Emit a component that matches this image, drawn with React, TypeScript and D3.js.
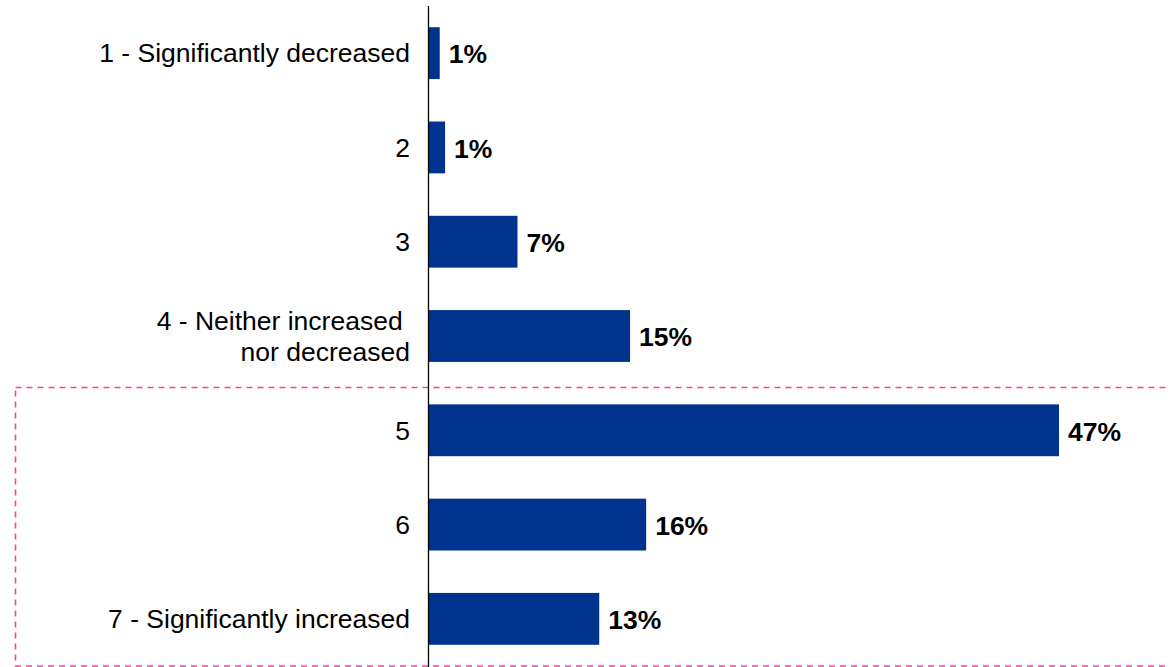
import React from "react";
import * as d3 from "d3";

const categories: string[][] = [
  ["1 - Significantly decreased"],
  ["2"],
  ["3"],
  ["4 - Neither increased\u00a0", "nor decreased"],
  ["5"],
  ["6"],
  ["7 - Significantly increased"],
];
const values: number[] = [0.8, 1.2, 6.6, 15.0, 47.0, 16.2, 12.7];

const W = 1170;
const H = 667;
const BAR = "#00338D";
const PINK = "#FF3FA4";
const FONT = "'Liberation Sans', Arial, Helvetica, sans-serif";

export default function App() {
  const ids = categories.map((_, i) => String(i));
  const y = d3.scaleBand<string>().domain(ids).range([6, 666]).paddingInner(0.45).paddingOuter(0.225);
  const x = d3.scaleLinear().domain([0, 47]).range([429, 1059]);
  const bw = y.bandwidth();

  return (
    <svg width={W} height={H} style={{ position: "absolute", left: 0, top: 0, background: "#fff" }}>
      <rect x={15.5} y={387.5} width={1200} height={278.5} fill="none" stroke={PINK} strokeWidth={1.6} strokeDasharray="6,5" />
      {values.map((v, i) => {
        const y0 = y(String(i))!;
        return (
          <g key={i}>
            <rect x={x(0)} y={y0} width={x(v) - x(0)} height={bw} fill={BAR} />
            <text x={x(v) + 9} y={y0 + bw / 2 + 1} dy="0.35em" fontFamily={FONT} fontWeight="bold" fontSize={26.5} fill="#000">
              {d3.format(".0f")(v) + "%"}
            </text>
          </g>
        );
      })}
      {categories.map((lines, i) => {
        const cy = y(String(i))! + bw / 2;
        const lh = 31;
        const start = cy - ((lines.length - 1) * lh) / 2;
        return (
          <text key={i} x={410} textAnchor="end" fontFamily={FONT} fontSize={26.5} fill="#000" style={{ whiteSpace: "pre" }}>
            {lines.map((l, j) => (
              <tspan key={j} x={410} y={start + j * lh} dy="0.35em">{l}</tspan>
            ))}
          </text>
        );
      })}
      <line x1={428.5} x2={428.5} y1={6} y2={667} stroke="#000" strokeWidth={1.3} />
    </svg>
  );
}
